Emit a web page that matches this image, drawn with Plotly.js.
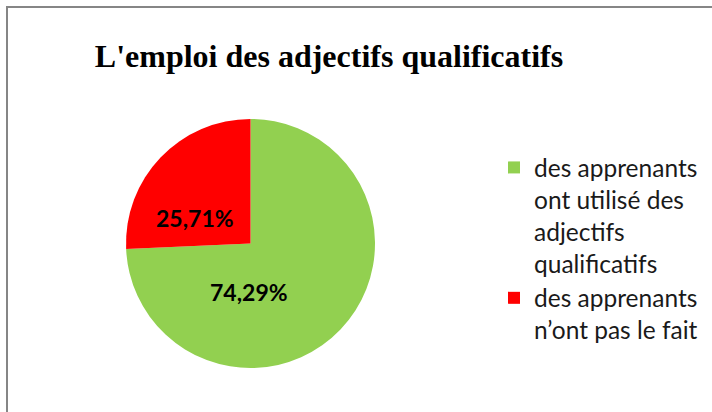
<!DOCTYPE html>
<html>
<head>
<meta charset="utf-8">
<script src="https://cdn.plot.ly/plotly-3.0.1.min.js"></script>
<style>html,body{margin:0;padding:0;background:#fff;}#chart{width:712px;height:412px;}</style>
</head>
<body>
<div id="chart"></div>
<script>
const categories = [
  "des apprenants<br>ont utilisé des<br>adjectifs<br>qualificatifs",
  "des apprenants<br>n’ont pas le fait"
];
const values = [74.29, 25.71];
const colors = ["#92D050", "#FF0000"];
const chartTitle = "L'emploi des adjectifs qualificatifs";

const fmt = v => v.toFixed(2).replace(".", ",") + "%";
const labelPos = [[0.3497, 0.2913], [0.2739, 0.4709]];

const trace = {
  type: "pie",
  labels: categories,
  values: values,
  sort: false,
  direction: "clockwise",
  rotation: 0,
  textinfo: "none",
  hoverinfo: "none",
  marker: {colors: colors, line: {width: 0}},
  domain: {x: [126/712, 375/712], y: [1 - 368/412, 1 - 119/412]}
};

const layout = {
  width: 712, height: 412,
  margin: {l: 0, r: 0, t: 0, b: 0},
  paper_bgcolor: "#fff",
  title: {
    text: "<b>" + chartTitle + "</b>",
    font: {family: "Liberation Serif, serif", size: 32, color: "#000"},
    x: 329/712, xanchor: "center", y: 1 - 56/412, yanchor: "middle"
  },
  showlegend: true,
  legend: {
    x: 494/712, xanchor: "left", y: 1 - 145/412, yanchor: "top",
    valign: "top",
    font: {family: "Lato, sans-serif", size: 24.5, color: "#1a1a1a"},
    bgcolor: "rgba(0,0,0,0)"
  },
  annotations: values.map((v, i) => ({
    text: "<b>" + fmt(v) + "</b>",
    x: labelPos[i][0], y: labelPos[i][1], xref: "paper", yref: "paper",
    xanchor: "center", yanchor: "middle", showarrow: false,
    font: {family: "Lato, sans-serif", size: 23, color: "#000"}
  })),
  shapes: [{
    type: "rect", xref: "paper", yref: "paper",
    x0: 7/712, x1: 1.05, y0: -0.05, y1: 1 - 7/412,
    line: {color: "#868686", width: 2}, fillcolor: "rgba(0,0,0,0)"
  }]
};

Plotly.newPlot("chart", [trace], layout, {displayModeBar: false, staticPlot: true});
</script>
</body>
</html>
